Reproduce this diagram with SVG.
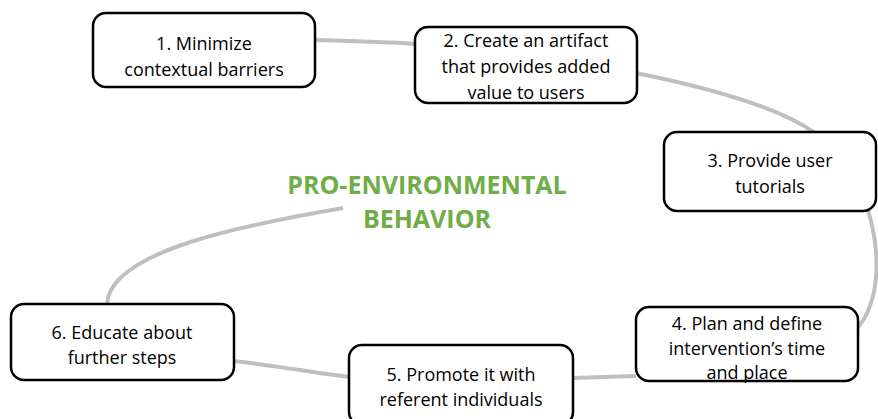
<svg xmlns="http://www.w3.org/2000/svg" width="878" height="419" viewBox="0 0 878 419">
<style>
.box{fill:#fff;stroke:#000;stroke-width:2.5}
.lbl{font-family:"Open Sans","Liberation Sans",sans-serif;font-size:18px;fill:#000;text-anchor:middle}
.title{font-family:"Open Sans","Liberation Sans",sans-serif;font-size:25px;font-weight:bold;fill:#70AD47;text-anchor:middle}
.conn{fill:none;stroke:#BFBFBF;stroke-width:4}
</style>
<rect width="878" height="419" fill="#fff"/>
<g id="connectors">
<path class="conn" d="M343,208 C250,224 110,250 107,304"/>
<path class="conn" d="M234,361 C280,366 320,374 350,377"/>
<path class="conn" d="M573,378 L636,376"/>
<path class="conn" d="M856,330 C882,300 880,250 868,210"/>
<path class="conn" d="M636,73 C710,88 780,108 815,133"/>
<path class="conn" d="M315,40 C350,41 390,42 416,44"/>
</g>
<g id="title">
<text class="title" x="427" y="194">PRO-ENVIRONMENTAL</text>
<text class="title" x="427" y="228">BEHAVIOR</text>
</g>
<g id="node1">
<rect class="box" x="93" y="13" width="222" height="74" rx="13"/>
<text class="lbl" x="204" y="50">1. Minimize</text>
<text class="lbl" x="204" y="76">contextual barriers</text>
</g>
<g id="node2">
<rect class="box" x="415" y="27" width="222" height="76" rx="13"/>
<text class="lbl" x="526" y="47">2. Create an artifact</text>
<text class="lbl" x="526" y="73">that provides added</text>
<text class="lbl" x="526" y="99">value to users</text>
</g>
<g id="node3">
<rect class="box" x="664" y="132" width="212" height="79" rx="13"/>
<text class="lbl" x="770" y="167">3. Provide user</text>
<text class="lbl" x="770" y="193">tutorials</text>
</g>
<g id="node4">
<rect class="box" x="636" y="307" width="222" height="74" rx="13"/>
<text class="lbl" x="747" y="330">4. Plan and define</text>
<text class="lbl" x="747" y="355">intervention’s time</text>
<text class="lbl" x="747" y="379">and place</text>
</g>
<g id="node5">
<rect class="box" x="349" y="345" width="224" height="80" rx="13"/>
<text class="lbl" x="461" y="381">5. Promote it with</text>
<text class="lbl" x="461" y="406">referent individuals</text>
</g>
<g id="node6">
<rect class="box" x="11" y="304" width="223" height="76" rx="13"/>
<text class="lbl" x="122" y="339">6. Educate about</text>
<text class="lbl" x="122" y="364">further steps</text>
</g>
</svg>
